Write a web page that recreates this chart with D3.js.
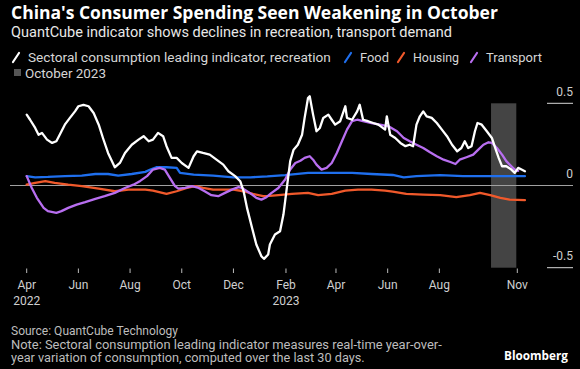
<!DOCTYPE html>
<html><head><meta charset="utf-8">
<script src="https://cdn.jsdelivr.net/npm/d3@7"></script>
<style>html,body{margin:0;padding:0;background:#000;} svg{display:block;}</style>
</head><body>
<svg id="chart" width="580" height="369"></svg>
<script>
// ---------- DATA ----------
const recreation = [
["2022-04-01",0.431],["2022-04-05",0.400],["2022-04-11",0.350],["2022-04-15",0.309],["2022-04-19",0.320],
["2022-04-25",0.279],["2022-05-01",0.259],["2022-05-06",0.269],["2022-05-08",0.289],["2022-05-16",0.370],
["2022-05-22",0.411],["2022-05-28",0.451],["2022-06-01",0.482],["2022-06-07",0.491],["2022-06-13",0.482],
["2022-06-19",0.441],["2022-06-25",0.370],["2022-06-30",0.289],["2022-07-06",0.198],["2022-07-14",0.111],
["2022-07-20",0.137],["2022-07-26",0.198],["2022-08-03",0.248],["2022-08-11",0.279],["2022-08-17",0.300],
["2022-08-23",0.269],["2022-08-28",0.279],["2022-09-03",0.320],["2022-09-09",0.300],["2022-09-13",0.239],
["2022-09-19",0.168],["2022-09-25",0.168],["2022-10-01",0.137],["2022-10-09",0.107],["2022-10-15",0.178],
["2022-10-19",0.208],["2022-10-26",0.198],["2022-11-03",0.188],["2022-11-11",0.157],["2022-11-19",0.127],
["2022-11-25",0.087],["2022-12-03",0.057],["2022-12-09",0.026],["2022-12-13",-0.035],["2022-12-17",-0.136],
["2022-12-23",-0.258],["2022-12-28",-0.359],["2023-01-03",-0.430],["2023-01-06",-0.446],["2023-01-11",-0.420],
["2023-01-13",-0.359],["2023-01-19",-0.298],["2023-01-25",-0.278],["2023-01-29",-0.177],["2023-02-02",-0.015],
["2023-02-06",0.148],["2023-02-10",0.218],["2023-02-15",0.248],["2023-02-20",0.309],["2023-02-23",0.411],
["2023-02-27",0.532],["2023-03-01",0.543],["2023-03-05",0.431],["2023-03-09",0.330],["2023-03-13",0.350],
["2023-03-17",0.411],["2023-03-23",0.431],["2023-03-27",0.400],["2023-03-31",0.370],["2023-04-06",0.391],
["2023-04-12",0.482],["2023-04-14",0.411],["2023-04-20",0.400],["2023-04-26",0.451],["2023-04-29",0.491],
["2023-05-03",0.400],["2023-05-09",0.391],["2023-05-15",0.380],["2023-05-21",0.370],["2023-05-29",0.340],
["2023-05-31",0.421],["2023-06-04",0.309],["2023-06-10",0.289],["2023-06-16",0.259],["2023-06-22",0.239],
["2023-06-27",0.248],["2023-07-01",0.239],["2023-07-05",0.370],["2023-07-09",0.421],["2023-07-13",0.451],
["2023-07-17",0.421],["2023-07-23",0.411],["2023-07-29",0.380],["2023-08-04",0.340],["2023-08-10",0.300],
["2023-08-16",0.248],["2023-08-22",0.208],["2023-08-27",0.228],["2023-08-31",0.269],["2023-09-04",0.228],
["2023-09-08",0.239],["2023-09-12",0.330],["2023-09-15",0.380],["2023-09-20",0.370],["2023-09-26",0.330],
["2023-10-02",0.289],["2023-10-06",0.228],["2023-10-10",0.168],["2023-10-14",0.117],["2023-10-19",0.117],
["2023-10-25",0.097],["2023-10-29",0.077],["2023-11-02",0.107],["2023-11-06",0.097],["2023-11-10",0.087]
];
const food = [
["2022-04-01",0.057],["2022-04-11",0.050],["2022-04-26",0.052],["2022-05-16",0.057],["2022-06-05",0.060],
["2022-06-21",0.070],["2022-07-06",0.070],["2022-07-18",0.060],["2022-08-03",0.070],["2022-08-19",0.083],
["2022-08-25",0.097],["2022-09-01",0.111],["2022-09-13",0.111],["2022-09-25",0.107],["2022-09-29",0.077],
["2022-10-15",0.066],["2022-11-07",0.060],["2022-12-01",0.050],["2022-12-21",0.050],["2023-01-10",0.055],
["2023-01-31",0.063],["2023-02-27",0.077],["2023-03-27",0.077],["2023-04-20",0.077],["2023-05-13",0.070],
["2023-06-07",0.064],["2023-06-20",0.050],["2023-07-05",0.057],["2023-08-02",0.063],["2023-08-29",0.057],
["2023-09-30",0.057],["2023-10-19",0.057],["2023-11-10",0.057]
];
const housing = [
["2022-04-01",0.005],["2022-04-11",0.016],["2022-04-23",0.026],["2022-05-04",0.016],["2022-05-20",0.005],
["2022-06-05",-0.004],["2022-06-25",-0.019],["2022-07-14",-0.035],["2022-07-30",-0.025],["2022-08-19",-0.025],
["2022-08-28",-0.031],["2022-09-13",-0.051],["2022-09-25",-0.035],["2022-10-07",-0.015],["2022-10-17",-0.004],
["2022-10-26",-0.015],["2022-11-07",-0.025],["2022-11-19",-0.025],["2022-12-01",-0.025],["2022-12-13",-0.035],
["2022-12-24",-0.051],["2023-01-05",-0.065],["2023-01-13",-0.063],["2023-01-23",-0.059],["2023-02-08",-0.051],
["2023-02-27",-0.045],["2023-03-11",-0.059],["2023-03-27",-0.051],["2023-04-12",-0.031],["2023-04-27",-0.025],
["2023-05-13",-0.025],["2023-05-29",-0.031],["2023-06-07",-0.037],["2023-06-23",-0.051],["2023-07-13",-0.055],
["2023-08-02",-0.059],["2023-08-21",-0.071],["2023-09-06",-0.059],["2023-09-18",-0.045],["2023-09-30",-0.059],
["2023-10-12",-0.075],["2023-10-23",-0.086],["2023-11-10",-0.089]
];
const transport = [
["2022-04-01",0.057],["2022-04-07",-0.015],["2022-04-13",-0.075],["2022-04-21",-0.136],["2022-04-26",-0.156],
["2022-05-06",-0.166],["2022-05-12",-0.156],["2022-05-20",-0.136],["2022-05-30",-0.116],["2022-06-09",-0.101],
["2022-06-21",-0.081],["2022-07-02",-0.065],["2022-07-14",-0.045],["2022-07-26",-0.015],["2022-08-05",0.005],
["2022-08-13",0.028],["2022-08-21",0.057],["2022-08-28",0.097],["2022-09-05",0.107],["2022-09-11",0.097],
["2022-09-17",0.046],["2022-09-23",-0.004],["2022-09-27",-0.019],["2022-10-05",-0.015],["2022-10-13",-0.004],
["2022-10-21",-0.015],["2022-10-28",-0.035],["2022-11-05",-0.059],["2022-11-13",-0.065],["2022-11-21",-0.045],
["2022-11-29",-0.025],["2022-12-07",-0.010],["2022-12-11",-0.015],["2022-12-17",-0.035],["2022-12-23",-0.055],
["2022-12-28",-0.075],["2023-01-03",-0.086],["2023-01-09",-0.071],["2023-01-15",-0.045],["2023-01-23",-0.015],
["2023-01-31",0.036],["2023-02-06",0.097],["2023-02-12",0.137],["2023-02-18",0.151],["2023-02-23",0.168],
["2023-03-01",0.178],["2023-03-05",0.157],["2023-03-09",0.127],["2023-03-15",0.097],["2023-03-21",0.107],
["2023-03-27",0.137],["2023-04-02",0.198],["2023-04-08",0.269],["2023-04-14",0.340],["2023-04-20",0.391],
["2023-04-26",0.400],["2023-05-03",0.391],["2023-05-13",0.380],["2023-05-23",0.370],["2023-06-02",0.360],
["2023-06-12",0.330],["2023-06-20",0.289],["2023-06-27",0.269],["2023-07-05",0.248],["2023-07-13",0.228],
["2023-07-21",0.202],["2023-07-29",0.178],["2023-08-06",0.157],["2023-08-14",0.143],["2023-08-20",0.131],
["2023-08-25",0.157],["2023-09-02",0.172],["2023-09-10",0.188],["2023-09-16",0.218],["2023-09-22",0.248],
["2023-09-28",0.263],["2023-10-02",0.259],["2023-10-08",0.228],["2023-10-14",0.188],["2023-10-19",0.148],
["2023-10-25",0.117],["2023-10-29",0.097],["2023-11-02",0.089]
];
const seriesNames = ["Sectoral consumption leading indicator, recreation","Food","Housing","Transport"];
const seriesColors = ["#ffffff","#1f6fee","#f0592b","#b86ef0"];
const shadeLabel = "October 2023";
const shadeRange = ["2023-10-01","2023-11-01"];
const xTickDates = ["2022-04-01","2022-06-01","2022-08-01","2022-10-01","2022-12-01","2023-02-01","2023-04-01","2023-06-01","2023-08-01","2023-11-01"];
const xTickMonths = ["Apr","Jun","Aug","Oct","Dec","Feb","Apr","Jun","Aug","Nov"];
const xTickYears = ["2022","","","","","2023","","","",""];
const yTicks = [0.5, 0, -0.5];
const yTickLabels = ["0.5","0","-0.5"];
const title = "China's Consumer Spending Seen Weakening in October";
const subtitle = "QuantCube indicator shows declines in recreation, transport demand";
const sourceLines = ["Source: QuantCube Technology",
  "Note: Sectoral consumption leading indicator measures real-time year-over-",
  "year variation of consumption, computed over the last 30 days."];
const brand = "Bloomberg";

// ---------- CHART ----------
const parse = d3.timeParse("%Y-%m-%d");
const svg = d3.select("#chart");
svg.append("rect").attr("width",580).attr("height",369).attr("fill","#000");
const FONT = "Roboto, 'Open Sans', 'DejaVu Sans', sans-serif";

function fit(sel, target){
  const n = sel.node(); const fs = parseFloat(sel.attr("font-size"));
  const w = n.getComputedTextLength();
  if (w>0) sel.attr("font-size", (fs*target/w).toFixed(2));
  return sel;
}

const x = d3.scaleTime().domain([parse("2022-04-01"), parse("2023-11-01")]).range([26.7, 517.3]);
const y = d3.scaleLinear().domain([-0.5, 0.5]).range([267.7, 103.3]);

// title block
fit(svg.append("text").attr("x",11).attr("y",19).attr("fill","#fff").attr("font-family","'Open Sans', sans-serif")
  .attr("font-weight","bold").attr("font-size",15).text(title), 487);
fit(svg.append("text").attr("x",11).attr("y",37).attr("fill","#e8e8e8").attr("font-family",FONT)
  .attr("font-size",13).text(subtitle), 441);

// legend
const legX = [11, 343, 396, 469];
const legTextW = [303, 29, 46, 56];
seriesNames.forEach((nm,i)=>{
  const g = svg.append("g");
  g.append("line").attr("x1",legX[i]+2).attr("y1",62).attr("x2",legX[i]+8).attr("y2",53)
    .attr("stroke",seriesColors[i]).attr("stroke-width",2.2).attr("stroke-linecap","round");
  fit(g.append("text").attr("x",legX[i]+17).attr("y",61.5).attr("fill","#d6d6d6").attr("font-family",FONT)
    .attr("font-size",12.5).text(nm), legTextW[i]);
});
svg.append("rect").attr("x",14).attr("y",69).attr("width",7).attr("height",7).attr("fill","#555");
fit(svg.append("text").attr("x",25).attr("y",77.5).attr("fill","#d6d6d6").attr("font-family",FONT)
  .attr("font-size",12.5).text(shadeLabel), 81);

// shade
svg.append("rect").attr("x",x(parse(shadeRange[0]))).attr("y",y(0.5))
  .attr("width",x(parse(shadeRange[1]))-x(parse(shadeRange[0]))-1).attr("height",y(-0.5)-y(0.5))
  .attr("fill","#444444");

// y grid / ticks
yTicks.forEach((v,i)=>{
  if (v===0) {
    svg.append("line").attr("x1",10).attr("x2",573).attr("y1",y(0)).attr("y2",y(0))
      .attr("stroke","#a0a0a0").attr("stroke-width",1);
  } else {
    svg.append("line").attr("x1",547).attr("x2",573).attr("y1",y(v)).attr("y2",y(v))
      .attr("stroke","#d8d8d8").attr("stroke-width",1);
  }
  svg.append("text").attr("x",573).attr("y",y(v)-7.5).attr("text-anchor","end").attr("fill","#cfcfcf")
    .attr("font-family",FONT).attr("font-size",12).text(yTickLabels[i]);
});

// x axis ticks
xTickDates.forEach((d,i)=>{
  const xx = x(parse(d));
  svg.append("line").attr("x1",xx).attr("x2",xx).attr("y1",268.5).attr("y2",273).attr("stroke","#bbb").attr("stroke-width",1);
  svg.append("text").attr("x",xx).attr("y",289).attr("text-anchor","middle").attr("fill","#cfcfcf")
    .attr("font-family",FONT).attr("font-size",12).text(xTickMonths[i]);
  if (xTickYears[i]) svg.append("text").attr("x",xx).attr("y",305).attr("text-anchor","middle").attr("fill","#cfcfcf")
    .attr("font-family",FONT).attr("font-size",12).text(xTickYears[i]);
});

// lines (recreation on top)
const line = d3.line().x(d=>x(parse(d[0]))).y(d=>y(d[1]));
const order = [[food,1],[housing,2],[transport,3],[recreation,0]];
order.forEach(([data,ci])=>{
  svg.append("path").datum(data).attr("d",line).attr("fill","none").attr("stroke",seriesColors[ci])
    .attr("stroke-width",2.3).attr("stroke-linejoin","round").attr("stroke-linecap","round");
});

// footer
const footW = [167, 431, 354];
const footY = [335, 348.5, 362];
sourceLines.forEach((t,i)=>{
  fit(svg.append("text").attr("x",11).attr("y",footY[i]).attr("fill","#bdbdbd").attr("font-family",FONT)
    .attr("font-size",11.5).text(t), footW[i]);
});
fit(svg.append("text").attr("x",504).attr("y",360).attr("fill","#fff").attr("font-family","'Open Sans', sans-serif")
  .attr("font-weight","bold").attr("font-size",12).text(brand), 64);
</script>
</body></html>
